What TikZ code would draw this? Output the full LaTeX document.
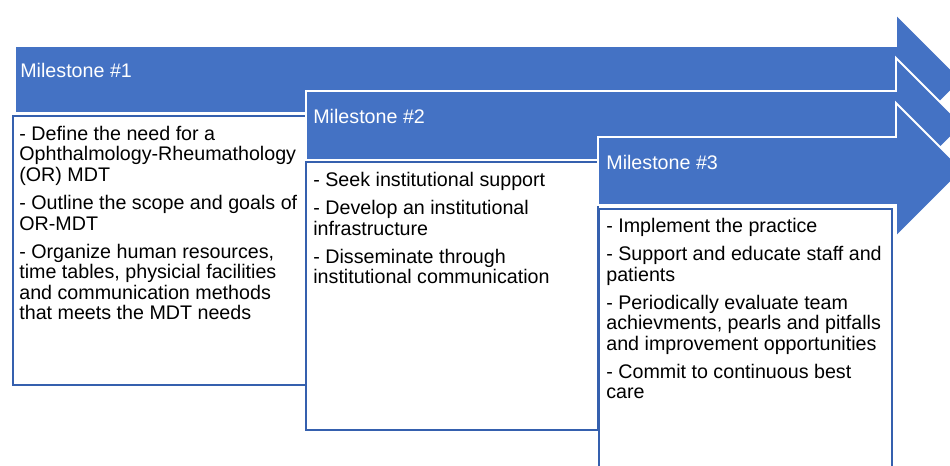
\documentclass[tikz,border=0pt]{standalone}
\usepackage{fontspec}
\setmainfont{Liberation Sans}
\usepackage{xcolor}
\usepackage{tikz}
\usetikzlibrary{positioning}
\definecolor{msblue}{HTML}{4472C4}
\definecolor{msedge}{HTML}{3560AE}
\tikzset{
    arrowbar/.style = {fill=msblue, draw=white, line width=1.1pt, line join=miter},
    stepbox/.style = {draw=msedge, line width=0.85pt, fill=white},
    heading/.style = {anchor=base west, inner sep=0pt, text=white, font=\fontsize{11.2}{13}\selectfont},
    bodytext/.style = {anchor=north west, inner sep=0pt, align=left, font=\fontsize{11.2}{11.6}\selectfont},
}
\begin{document}
\begin{tikzpicture}[x=0.02cm, y=-0.02cm]
\useasboundingbox (0,0) rectangle (950,466);
\clip (0,0) rectangle (950,466);
%
\draw[arrowbar] (15,46) -- (896,46) -- (896,14) -- (962,80) -- (896,146) -- (896,113) -- (15,113) -- cycle;
\draw[stepbox] (13,116) rectangle (306,385);
\node[heading] (h1) at (20,78) {Milestone \#1};
\node[bodytext] (t1) at (19,126) {- Define the need for a\\Ophthalmology-Rheumathology\\(OR) MDT\\[4.5pt]- Outline the scope and goals of\\OR-MDT\\[4.5pt]- Organize human resources,\\time tables, physicial facilities\\and communication methods\\that meets the MDT needs};
%
\draw[arrowbar] (306,91) -- (896,91) -- (896,58) -- (963,125) -- (896,192) -- (896,160) -- (306,160) -- cycle;
\draw[stepbox] (306,162) rectangle (598,430);
\node[heading] (h2) at (313,124) {Milestone \#2};
\node[bodytext] (t2) at (313,172) {- Seek institutional support\\[4.5pt]- Develop an institutional\\infrastructure\\[4.5pt]- Disseminate through\\institutional communication};
%
\draw[arrowbar] (598,137) -- (896,137) -- (896,103) -- (963,170) -- (896,237) -- (896,205) -- (598,205) -- cycle;
\draw[stepbox] (599,209) rectangle (892,470);
\node[heading] (h3) at (606,170) {Milestone \#3};
\node[bodytext] (t3) at (606,218) {- Implement the practice\\[4.5pt]- Support and educate staff and\\patients\\[4.5pt]- Periodically evaluate team\\achievments, pearls and pitfalls\\and improvement opportunities\\[4.5pt]- Commit to continuous best\\care};
\end{tikzpicture}
\end{document}
